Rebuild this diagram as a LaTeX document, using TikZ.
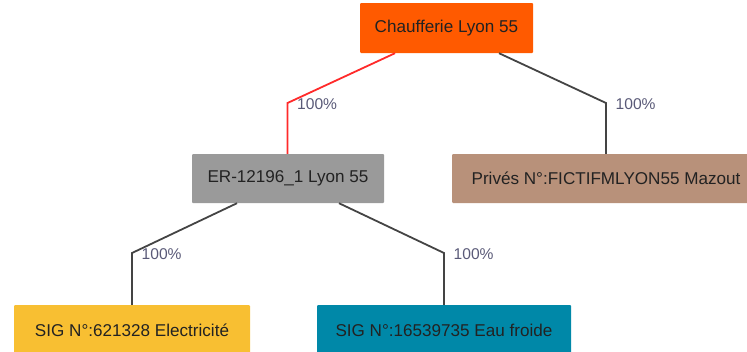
\documentclass[tikz,border=0pt]{standalone}
\usepackage{fontspec}
\setmainfont{Liberation Sans}
\usetikzlibrary{calc}
\definecolor{cOrange}{HTML}{FF5A00}
\definecolor{cGray}{HTML}{9A9A9A}
\definecolor{cBrown}{HTML}{B8917A}
\definecolor{cYellow}{HTML}{F8BF32}
\definecolor{cTeal}{HTML}{0088A8}
\definecolor{cText}{HTML}{222222}
\definecolor{cLabel}{HTML}{5A5A78}
\definecolor{cLine}{HTML}{444444}
\definecolor{cRed}{HTML}{FF2A2A}
\begin{document}
\begin{tikzpicture}[x=1pt,y=-1pt,
  box/.style={rectangle, rounded corners=1pt, inner sep=0pt, text=cText,
    font=\fontsize{17.1}{19}\selectfont},
  pct/.style={anchor=west, inner sep=0pt, text=cLabel,
    font=\fontsize{15.6}{17}\selectfont},
  link/.style={draw=cLine, line width=1.8pt},
  hot/.style={draw=cRed, line width=1.8pt}]
\useasboundingbox (0,0) rectangle (747,351);
\node[box, fill=cOrange, minimum width=173pt, minimum height=50pt] (top) at (446.5,28) {Chaufferie Lyon 55};
\node[box, fill=cGray, minimum width=192pt, minimum height=49pt] (er) at (288,178.5) {ER-12196\_1 Lyon 55};
\node[box, fill=cBrown, minimum width=308pt, minimum height=49pt] (pv) at (606,178.5) {Privés N°:FICTIFMLYON55 Mazout};
\node[box, fill=cYellow, minimum width=236pt, minimum height=50pt] (sig1) at (132,330) {SIG N°:621328 Electricité};
\node[box, fill=cTeal, minimum width=254pt, minimum height=50pt] (sig2) at (444,330) {SIG N°:16539735 Eau froide};
\coordinate (e1) at (287.5,103);
\coordinate (e2) at (606,103);
\coordinate (e3) at (132,253);
\coordinate (e4) at (444,253);
\draw[hot] ($(top.south)+(-51.5,0)$) -- (e1) -- (er.north -| e1);
\draw[link] ($(top.south)+(52.5,0)$) -- (e2) -- (pv.north);
\draw[link] ($(er.south)+(-51,0)$) -- (e3) -- (sig1.north);
\draw[link] ($(er.south)+(51,0)$) -- (e4) -- (sig2.north);
\node[pct] (l1) at ($(e1)+(9.5,1)$) {100\%};
\node[pct] (l2) at ($(e2)+(9.5,1)$) {100\%};
\node[pct] (l3) at ($(e3)+(9.5,1.5)$) {100\%};
\node[pct] (l4) at ($(e4)+(9.5,1.5)$) {100\%};
\end{tikzpicture}
\end{document}
